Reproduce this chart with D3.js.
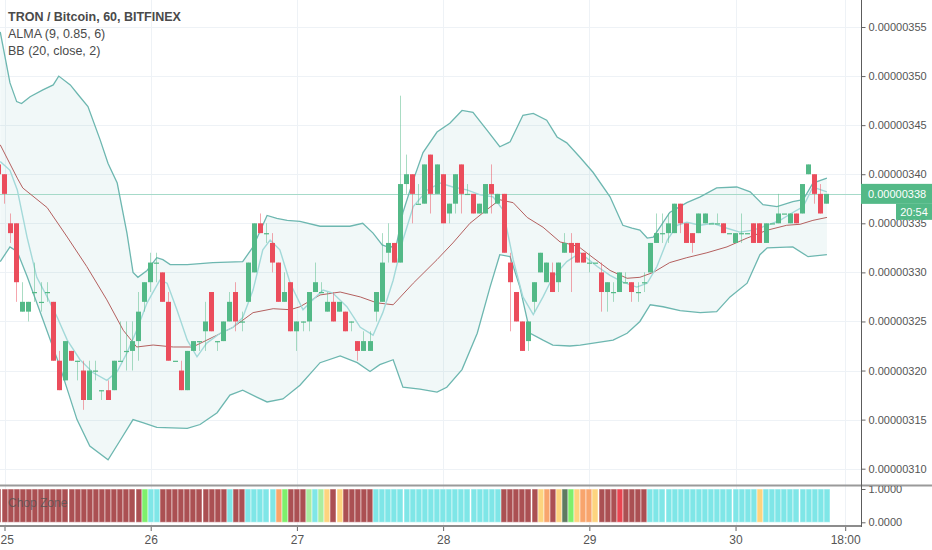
<!DOCTYPE html>
<html>
<head>
<meta charset="utf-8">
<script src="https://cdn.jsdelivr.net/npm/d3@7"></script>
<style>
  body { margin: 0; background: #fff; }
  svg text { font-family: "Liberation Sans", Arial, sans-serif; }
</style>
</head>
<body>
<div id="chart"></div>
<script>
// TRON / Bitcoin hourly candles, prices in satoshi (1e-8 BTC)
// hour 0 = 25th 00:00, first visible bar is hour -1
const firstHour = -1;

const opens = [
  341,340,335,335,326,326,328,327,328,327,321,
  319,322,321,320,317,320,318,318,318,321,
  322,322,323,327,329,331,330,327,321,320,
  318,322,323,324,328,323,323,325,328,325,
  327,330,335,334,333,331,327,329,324,325,
  325,328,328,326,327,326,326,325,323,322,
  322,326,327,332,333,331,339,340,337,337,
  342,338,340,336,337,341,338,338,336,336,
  339,337,338,331,328,325,323,327,330,329,
  330,329,332,333,333,332,331,331,330,328,
  328,328,329,329,328,329,330,333,334,334,
  334,337,335,334,334,335,335,335,335,334,
  333,334,334,335,335,333,335,335,336,335,
  336,336,340,340,338,337
];
const highs = [
  342,340,336,335,329,327,331,329,329,327,322,
  323,322,321,321,321,321,318,319,321,325,
  325,325,328,329,332,332,330,328,321,321,
  322,323,323,327,328,323,325,328,329,326,
  331,335,336,335,334,331,330,329,325,325,
  328,331,329,328,328,327,326,325,323,324,
  324,328,334,335,333,348,342,340,339,341,
  342,341,340,337,340,341,339,338,337,339,
  341,338,338,332,328,325,325,329,332,331,
  331,331,334,334,333,332,332,331,331,329,
  329,330,330,329,329,330,333,336,336,336,
  337,337,335,334,336,336,335,336,335,334,
  334,336,334,335,335,335,335,338,336,336,
  336,339,341,340,339,338
];
const lows = [
  340,337,333,327,326,325,327,326,327,321,318,
  319,321,319,316,317,319,317,317,318,321,
  320,320,321,326,328,329,327,321,321,318,
  318,322,322,322,324,322,323,325,324,324,
  327,330,334,333,330,327,327,324,322,324,
  324,328,328,326,325,326,324,324,321,322,
  322,325,327,331,331,331,338,335,337,337,
  336,338,335,335,336,336,338,336,336,336,
  336,337,332,324,325,322,322,326,330,329,
  328,328,332,328,331,331,330,331,326,326,
  327,328,329,327,327,328,330,333,333,333,
  334,334,333,332,334,335,335,335,334,334,
  333,333,334,333,333,333,335,335,336,335,
  335,336,340,337,336,337
];
const closes = [
  340,338,334,329,327,327,328,327,328,321,318,
  323,321,321,317,320,320,318,317,321,321,
  322,323,326,329,331,331,327,321,321,318,
  322,323,323,325,324,323,325,327,325,325,
  331,335,334,334,331,327,328,324,325,325,
  328,329,328,327,325,327,324,325,322,323,
  323,328,331,333,331,339,340,338,337,341,
  338,341,335,337,340,338,338,336,337,339,
  338,338,332,329,325,322,325,329,332,331,
  328,331,333,332,331,331,331,331,328,329,
  328,330,329,328,328,329,333,334,334,335,
  337,335,333,333,336,336,335,335,334,334,
  334,334,334,333,333,335,335,336,336,336,
  335,339,341,338,336,338
];

// Bollinger Bands (20, close, 2) and ALMA: [hour, price]
const bbUpper = [
  [-0.7,354.5],[0.9,349.3],[2.0,347.4],[2.8,347.2],[4.2,347.9],[6.3,348.6],[8.0,349.1],
  [8.9,350.0],[10.8,349.1],[12.1,348.1],[13.7,346.9],[15.7,343.5],[17.0,341.1],[18.5,339.1],
  [20.1,334.0],[21.1,330.0],[21.9,329.5],[23.4,330.2],[25.0,331.5],[26.0,331.3],[27.2,330.8],
  [30.0,330.8],[34.2,331.0],[39.1,331.1],[40.8,332.6],[43.1,335.8],[44.7,335.5],[46.4,335.3],
  [48.5,335.2],[51.8,334.7],[56.7,334.7],[58.8,335.0],[60.5,334.0],[62.0,332.8],[63.3,332.5],
  [64.4,333.0],[65.4,336.1],[67.1,339.4],[68.7,342.2],[71.0,344.3],[73.1,345.2],[75.1,346.5],
  [76.9,346.3],[79.2,344.5],[81.3,342.8],[83.0,343.3],[85.1,346.0],[86.8,346.2],[89.0,345.5],
  [90.7,343.8],[92.3,343.2],[94.5,341.7],[96.6,340.2],[99.4,337.7],[101.5,334.8],[103.0,334.5],
  [104.3,334.3],[105.5,333.5],[106.5,333.6],[107.6,334.6],[109.2,336.1],[112.0,337.1],
  [114.2,337.7],[116.9,338.6],[120.2,338.7],[122.4,338.2],[124.5,336.9],[126.8,336.7],
  [129.4,337.2],[131.1,337.4],[132.7,339.1],[135.0,339.6]
];
const bbLower = [
  [-0.7,331.1],[0.9,332.6],[2.1,332.1],[3.7,329.6],[6.3,325.2],[9.1,320.4],[11.9,315.0],
  [14.0,312.3],[17.0,310.9],[19.0,312.9],[21.1,315.0],[22.7,314.7],[25.0,314.2],[30.0,314.1],
  [32.1,314.5],[34.9,315.7],[37.0,317.5],[39.1,318.0],[41.4,317.3],[43.1,316.8],[45.7,317.1],
  [48.5,318.5],[51.8,320.8],[55.1,321.5],[57.9,320.8],[60.0,319.9],[61.6,320.6],[63.8,321.1],
  [65.4,318.3],[68.2,318.1],[71.0,317.8],[72.6,318.3],[75.1,320.1],[77.6,323.8],[79.7,328.5],
  [81.3,331.8],[83.0,331.6],[84.6,328.5],[86.3,323.8],[88.4,323.1],[90.0,322.6],[92.8,322.5],
  [94.5,322.6],[99.9,323.1],[102.2,323.8],[104.3,325.0],[106.0,326.7],[108.1,326.5],
  [110.9,326.1],[114.2,325.9],[116.9,326.0],[119.1,327.5],[121.9,328.9],[124.0,331.8],
  [125.2,332.5],[129.4,332.6],[131.9,331.6],[135.0,331.8]
];
const bbBasis = [
  [-0.7,343.0],[2.1,339.6],[3.0,338.6],[7.0,336.6],[10.3,333.6],[13.5,330.6],[16.8,327.2],
  [19.5,324.1],[21.7,322.4],[24.4,322.6],[27.7,322.4],[30.9,322.4],[34.2,323.4],[37.5,324.4],
  [40.8,325.9],[44.1,326.3],[46.9,326.2],[48.5,326.5],[51.8,327.7],[55.1,328.0],[58.4,327.5],
  [61.1,326.9],[63.8,326.7],[67.1,328.9],[71.0,331.3],[73.6,333.0],[76.4,335.0],[79.2,336.4],
  [81.3,337.4],[83.5,337.1],[85.8,335.6],[88.4,334.6],[91.2,333.1],[93.3,332.8],[94.5,332.5],
  [96.6,331.5],[99.4,330.2],[102.2,329.4],[104.3,329.5],[106.5,330.0],[109.2,331.0],
  [112.0,331.5],[115.3,332.0],[118.6,332.6],[121.9,333.5],[125.2,334.3],[128.4,334.8],
  [130.6,334.9],[132.7,335.3],[135.0,335.6]
];
const alma = [
  [-0.7,341.3],[0.9,340.4],[2.1,338.4],[3.7,333.6],[5.3,329.5],[7.0,327.5],[8.6,325.5],
  [10.3,323.1],[12.4,321.1],[14.5,319.8],[16.8,319.0],[18.5,319.9],[20.1,321.8],[21.7,324.1],
  [23.4,326.9],[25.5,329.2],[26.7,328.9],[28.3,326.2],[30.0,323.1],[31.6,321.4],[33.2,322.8],
  [35.4,323.8],[37.5,324.4],[39.1,325.4],[40.8,328.2],[42.4,332.3],[43.6,333.3],[45.2,332.3],
  [46.9,328.9],[49.0,326.2],[50.6,327.2],[52.3,328.2],[53.9,327.9],[56.2,326.5],[58.4,324.4],
  [60.5,323.6],[62.1,325.9],[63.8,329.2],[65.4,333.3],[67.1,336.7],[69.4,338.4],[71.5,339.1],
  [73.6,338.7],[75.9,338.4],[78.1,337.9],[80.2,337.7],[81.8,336.4],[83.5,331.3],[85.1,327.5],
  [86.8,325.7],[88.4,327.5],[90.0,329.5],[92.3,331.1],[94.5,332.0],[97.3,330.6],[99.4,329.7],
  [101.5,329.0],[103.8,328.5],[105.5,328.9],[107.1,330.6],[108.8,333.3],[110.4,334.8],
  [112.0,335.1],[114.2,334.8],[116.3,335.0],[118.6,334.5],[120.7,334.1],[122.9,334.3],
  [125.2,334.8],[127.3,335.3],[129.4,336.1],[131.1,336.7],[132.7,338.7],[135.0,338.2]
];

// Chop Zone colour per bar (same bars as the candles)
// R dark red, T turquoise, L lime, P pale green, O orange, Y light orange, G dark green, r red
const chopZone = (
  "RRRRRRRRRRRRRRRRRRRRRRRR" + "LTT" + "RRRRRRRRRRR" + "TRR" + "TTTTTOL" +
  "RRRPTPYRY" + "RRRRR" + "TTTTTTTTTTTTTTTTTTTTT" + "RRRRRR" +
  "YORYGLYOOY" + "RRRrRRRR" + "TTTTTTTTTTTTTTTTTT" + "Y" + "TTTTTTTTTTT"
).split("");
const chopColors = {
  R: "#ab5053", T: "#7fe6e7", L: "#7ef06c", P: "#aaeea0",
  O: "#f8a56d", Y: "#fdd47f", G: "#5e7a61", r: "#e84551"
};

const yTicks = [310, 315, 320, 325, 330, 335, 340, 345, 350, 355];
const xTickHours = [0, 24, 48, 72, 96, 120, 138];
const xTickLabels = ["25", "26", "27", "28", "29", "30", "18:00"];
const lastPrice = 338;
const countdown = "20:54";

const legendLines = ["TRON / Bitcoin, 60, BITFINEX", "ALMA (9, 0.85, 6)", "BB (20, close, 2)"];

// ---- layout ----
const W = 932, H = 550;
const plotRight = 861.5;
const mainBottom = 485;
const chopTop = 486, chopBottom = 526;

const svg = d3.select("#chart").append("svg")
  .attr("width", W).attr("height", H);

const x = d3.scaleLinear().domain([0, 138]).range([4.5, 845.2]);
const y = d3.scaleLinear().domain([310, 355]).range([468.7, 27]);
const yChop = d3.scaleLinear().domain([0, 1]).range([522.3, 489]);

const defs = svg.append("defs");
defs.append("clipPath").attr("id", "mainClip")
  .append("rect").attr("x", 0).attr("y", 0).attr("width", plotRight).attr("height", mainBottom);
defs.append("clipPath").attr("id", "chopClip")
  .append("rect").attr("x", 0).attr("y", chopTop).attr("width", W).attr("height", chopBottom - chopTop);

const candles = opens.map((o, k) => ({
  t: firstHour + k, o: o, hi: highs[k], lo: lows[k], c: closes[k]
}));

// ---- grid ----
const grid = svg.append("g");
grid.selectAll(".hgrid").data(yTicks).enter().append("line")
  .attr("x1", 0).attr("x2", plotRight)
  .attr("y1", d => Math.round(y(d)) + 0.5).attr("y2", d => Math.round(y(d)) + 0.5)
  .attr("stroke", "#eef2f6");
grid.selectAll(".vgrid").data(xTickHours).enter().append("line")
  .attr("x1", d => Math.round(x(d)) + 0.5).attr("x2", d => Math.round(x(d)) + 0.5)
  .attr("y1", 0).attr("y2", chopBottom)
  .attr("stroke", "#eef2f6");

const main = svg.append("g").attr("clip-path", "url(#mainClip)");

// ---- bollinger band fill + lines ----
const line = d3.line().x(d => x(d[0])).y(d => y(d[1]));
const bandPath = line(bbUpper) + "L" + line(bbLower.slice().reverse()).slice(1) + "Z";
main.append("path").attr("d", bandPath)
  .attr("fill", "rgba(100,180,175,0.09)").attr("stroke", "none");

// current price line
main.append("line")
  .attr("x1", 0).attr("x2", plotRight)
  .attr("y1", Math.round(y(lastPrice)) + 0.5).attr("y2", Math.round(y(lastPrice)) + 0.5)
  .attr("stroke", "#a6dac9").attr("stroke-width", 1);

main.append("path").datum(bbUpper).attr("d", line)
  .attr("fill", "none").attr("stroke", "#6db7b0").attr("stroke-width", 1.3);
main.append("path").datum(bbLower).attr("d", line)
  .attr("fill", "none").attr("stroke", "#6db7b0").attr("stroke-width", 1.3);
main.append("path").datum(bbBasis).attr("d", line)
  .attr("fill", "none").attr("stroke", "#b4605f").attr("stroke-width", 1);
main.append("path").datum(alma).attr("d", line)
  .attr("fill", "none").attr("stroke", "#a3d9d9").attr("stroke-width", 1.4);

// ---- candles ----
const bodyW = 5;
const cg = main.selectAll(".candle").data(candles).enter().append("g");
cg.append("line")
  .attr("x1", d => Math.round(x(d.t) - bodyW / 2) + bodyW / 2)
  .attr("x2", d => Math.round(x(d.t) - bodyW / 2) + bodyW / 2)
  .attr("y1", d => y(d.hi)).attr("y2", d => y(d.lo))
  .attr("stroke", d => d.c >= d.o ? "#53b987" : "#eb4d5c")
  .attr("stroke-opacity", 0.5).attr("stroke-width", 1);
cg.append("rect")
  .attr("x", d => Math.round(x(d.t) - bodyW / 2))
  .attr("width", bodyW)
  .attr("y", d => y(Math.max(d.o, d.c)))
  .attr("height", d => Math.max(1.2, Math.abs(y(d.o) - y(d.c))))
  .attr("fill", d => d.c >= d.o ? "#53b987" : "#eb4d5c");

// ---- legend ----
svg.selectAll(".legend").data(legendLines).enter().append("text")
  .attr("x", 8).attr("y", (d, i) => 20.5 + i * 17)
  .attr("font-size", "12.5px")
  .attr("font-weight", (d, i) => i === 0 ? "bold" : "normal")
  .attr("fill", "#4a4a4a")
  .text(d => d);

// ---- chop zone pane ----
const chop = svg.append("g").attr("clip-path", "url(#chopClip)");
chop.selectAll(".chop").data(chopZone).enter().append("rect")
  .attr("x", (d, k) => Math.round(x(firstHour + k) - 3))
  .attr("width", 6)
  .attr("y", yChop(1)).attr("height", yChop(0) - yChop(1))
  .attr("fill", d => chopColors[d])
  .attr("stroke", "#fff").attr("stroke-opacity", 0.5).attr("stroke-width", 1);
svg.append("text")
  .attr("x", 8).attr("y", 507)
  .attr("font-size", "12px").attr("fill", "#555").attr("fill-opacity", 0.8)
  .text("Chop Zone");

// pane borders
svg.append("line").attr("x1", 0).attr("x2", W).attr("y1", 485.5).attr("y2", 485.5)
  .attr("stroke", "#9a9a9a").attr("stroke-width", 2);
svg.append("line").attr("x1", 0).attr("x2", plotRight).attr("y1", 526).attr("y2", 526)
  .attr("stroke", "#8c8c8c").attr("stroke-width", 2);

// ---- axes ----
const yAxis = d3.axisRight(y).tickValues(yTicks).tickSize(4).tickPadding(3)
  .tickFormat(d => (d * 1e-8).toFixed(8));
const yg = svg.append("g").attr("transform", `translate(${plotRight},0)`).call(yAxis);
yg.select(".domain").remove();
yg.selectAll("line").attr("stroke", "#666");
yg.selectAll("text").attr("font-size", "11px").attr("fill", "#555")
  .attr("font-family", "Liberation Sans, Arial, sans-serif");

const chopAxis = d3.axisRight(yChop).tickValues([0, 1]).tickSize(4).tickPadding(3)
  .tickFormat(d => d.toFixed(4));
const cag = svg.append("g").attr("clip-path", "url(#chopClip)")
  .append("g").attr("transform", `translate(${plotRight},0)`).call(chopAxis);
cag.select(".domain").remove();
cag.selectAll("line").attr("stroke", "#666");
cag.selectAll("text").attr("font-size", "11px").attr("fill", "#555")
  .attr("font-family", "Liberation Sans, Arial, sans-serif");

svg.append("line").attr("x1", plotRight).attr("x2", plotRight).attr("y1", 0).attr("y2", 527)
  .attr("stroke", "#5c5c5c").attr("stroke-width", 1);

const xAxis = d3.axisBottom(x).tickValues(xTickHours).tickSize(4).tickPadding(4)
  .tickFormat((d, i) => xTickLabels[i]);
const xg = svg.append("g").attr("transform", "translate(0,527)").call(xAxis);
xg.select(".domain").remove();
xg.selectAll("line").attr("stroke", "#666");
xg.selectAll("text").attr("font-size", "12px").attr("fill", "#555")
  .attr("font-family", "Liberation Sans, Arial, sans-serif");
// first label sits at the left edge: keep it fully inside the picture
xg.selectAll("text").filter(d => d === 0)
  .attr("text-anchor", "start").attr("x", -x(0));

// ---- last price + countdown labels ----
svg.append("rect").attr("x", plotRight - 0.5).attr("y", y(lastPrice) - 10)
  .attr("width", W - plotRight + 0.5).attr("height", 20).attr("fill", "#53b987");
svg.append("text").attr("x", 868).attr("y", y(lastPrice) + 4)
  .attr("font-size", "11px").attr("fill", "#fff")
  .text((lastPrice * 1e-8).toFixed(8));
svg.append("rect").attr("x", 896).attr("y", y(lastPrice) + 10)
  .attr("width", 36).attr("height", 16).attr("fill", "#53b987");
svg.append("text").attr("x", 914).attr("y", y(lastPrice) + 22)
  .attr("text-anchor", "middle").attr("font-size", "11px").attr("fill", "#fff")
  .text(countdown);
</script>
</body>
</html>
